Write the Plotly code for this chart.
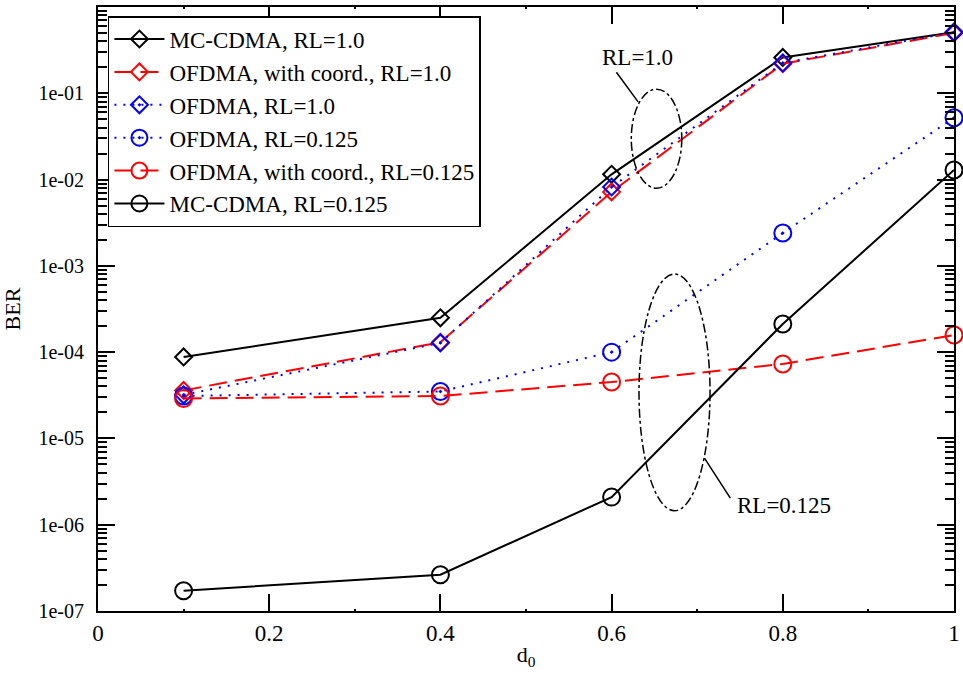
import plotly.graph_objects as go

# Normalised distance d0 at which BER was simulated
d0 = [0.1, 0.4, 0.6, 0.8, 1.0]

# BER curves, load ratio RL = 1.0
mc_cdma_rl1 = [8.8e-5, 2.5e-4, 1.15e-2, 0.26, 0.51]
ofdma_coord_rl1 = [3.6e-5, 1.3e-4, 7.2e-3, 0.22, 0.50]
ofdma_rl1 = [3.2e-5, 1.28e-4, 8.2e-3, 0.225, 0.51]

# BER curves, load ratio RL = 0.125
ofdma_rl0125 = [3.1e-5, 3.5e-5, 1.0e-4, 2.4e-3, 0.052]
ofdma_coord_rl0125 = [2.9e-5, 3.1e-5, 4.5e-5, 7.3e-5, 1.58e-4]
mc_cdma_rl0125 = [1.72e-7, 2.63e-7, 2.09e-6, 2.12e-4, 0.0129]

y_tick_vals = [1e-7, 1e-6, 1e-5, 1e-4, 1e-3, 1e-2, 1e-1]
y_tick_text = ["1e-07", "1e-06", "1e-05", "1e-04", "1e-03", "1e-02", "1e-01"]
x_tick_vals = [0, 0.2, 0.4, 0.6, 0.8, 1.0]
x_tick_text = ["0", "0.2", "0.4", "0.6", "0.8", "1"]

FONT = "Liberation Serif, Times New Roman, serif"
BLACK, RED, BLUE = "#000000", "#ff0000", "#0000ff"

series = [
    ("MC-CDMA, RL=1.0", mc_cdma_rl1, BLACK, "solid", "diamond-open", 13),
    ("OFDMA, with coord., RL=1.0", ofdma_coord_rl1, RED, "18px,8px", "diamond-open", 13),
    ("OFDMA, RL=1.0", ofdma_rl1, BLUE, "2px,7px", "diamond-open-dot", 13),
    ("OFDMA, RL=0.125", ofdma_rl0125, BLUE, "2px,7px", "circle-open-dot", 17),
    ("OFDMA, with coord., RL=0.125", ofdma_coord_rl0125, RED, "18px,8px", "circle-open", 17),
    ("MC-CDMA, RL=0.125", mc_cdma_rl0125, BLACK, "solid", "circle-open", 17),
]

fig = go.Figure()
for name, vals, color, dash, symbol, size in series:
    fig.add_trace(go.Scatter(
        x=d0, y=vals, name=name, mode="lines+markers",
        line=dict(color=color, width=2, dash=dash),
        marker=dict(symbol=symbol, size=size, color=color,
                    line=dict(color=color, width=2)),
        cliponaxis=False,
    ))

# Group ellipses with callout labels, placed in plot-area (paper) fractions
ell = dict(type="circle", xref="paper", yref="paper",
           line=dict(color="black", width=1.5, dash="dashdot"))
fig.add_shape(**ell, x0=0.623, x1=0.682, y0=0.700, y1=0.864)
fig.add_shape(**ell, x0=0.632, x1=0.715, y0=0.166, y1=0.558)
lead = dict(type="line", xref="paper", yref="paper", line=dict(color="black", width=1.5))
fig.add_shape(**lead, x0=0.6056, y0=0.892, x1=0.631, y1=0.843)
fig.add_shape(**lead, x0=0.7085, y0=0.253, x1=0.7387, y1=0.187)
label = dict(xref="paper", yref="paper", showarrow=False,
             xanchor="center", yanchor="middle",
             font=dict(family=FONT, size=23, color="black"))
fig.add_annotation(**label, x=0.63, y=0.916, text="RL=1.0")
fig.add_annotation(**label, x=0.801, y=0.175, text="RL=0.125")

fig.update_layout(
    width=963, height=675,
    margin=dict(l=98, r=3, t=7, b=64),
    paper_bgcolor="white", plot_bgcolor="white",
    font=dict(family=FONT, size=22, color="black"),
    showlegend=True,
    legend=dict(x=0.0116, y=0.985, xanchor="left", yanchor="top",
                bgcolor="white", bordercolor="black", borderwidth=1.5,
                font=dict(family=FONT, size=23), itemwidth=50,
                tracegroupgap=0),
    xaxis=dict(
        range=[0, 1], tickvals=x_tick_vals, ticktext=x_tick_text,
        ticks="inside", ticklen=17, tickwidth=1.5, tickcolor="black",
        showline=True, linecolor="black", linewidth=2, mirror="allticks",
        showgrid=False, zeroline=False, ticklabeloverflow="allow",
        tickfont=dict(family=FONT, size=23),
        minor=dict(dtick=0.1, ticks="inside", ticklen=2, tickwidth=1.5,
                   tickcolor="black", showgrid=False),
        title=dict(text="d<sub>0</sub>", font=dict(family=FONT, size=22), standoff=2),
    ),
    yaxis=dict(
        type="log", range=[-7, 0], tickvals=y_tick_vals, ticktext=y_tick_text,
        ticks="inside", ticklen=17, tickwidth=1.5, tickcolor="black",
        showline=True, linecolor="black", linewidth=2, mirror="allticks",
        showgrid=False, zeroline=False, ticklabelstandoff=8,
        tickfont=dict(family=FONT, size=20),
        minor=dict(dtick="D1", ticks="inside", ticklen=9, tickwidth=1.5,
                   tickcolor="black", showgrid=False),
        title=dict(text="BER", font=dict(family=FONT, size=22), standoff=12),
    ),
)

fig.write_html("out.html")
